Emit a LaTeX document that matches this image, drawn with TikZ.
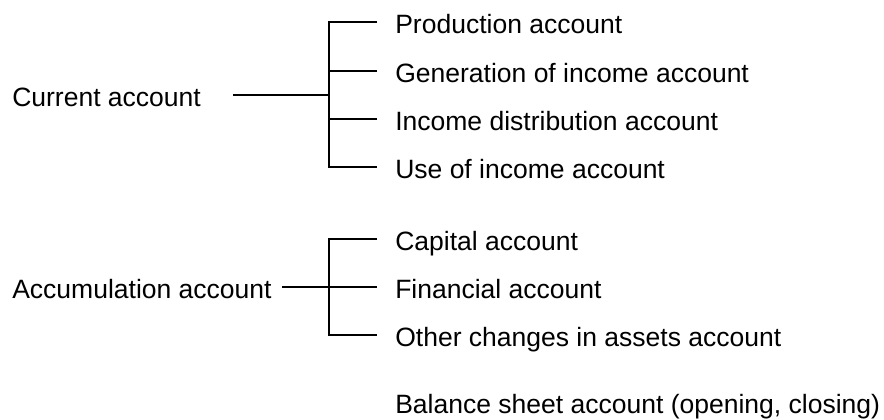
\documentclass[tikz,border=0pt]{standalone}
\usepackage{fontspec}
\setmainfont{Liberation Sans}
\usetikzlibrary{calc}

\begin{document}
\begin{tikzpicture}[x=0.025cm, y=-0.025cm,
  acct/.style={anchor=west, inner sep=0pt, text height=0.6cm, text depth=0.05cm,
               font=\fontsize{18.85pt}{22pt}\selectfont},
  sub/.style={acct, inner xsep=0.45cm},
  link/.style={draw=black, line width=0.8pt}
]
  \useasboundingbox (0,0) rectangle (884,420);

  % main accounts
  \node[acct] (cur) at (12,95) {Current account};
  \node[acct] (acc) at (12,287) {Accumulation account};

  \coordinate (jcur) at (329,95);
  \coordinate (jacc) at (329,287);

  % current account branch
  \node[sub] (prod) at (377,22)  {Production account};
  \node[sub] (gen)  at (377,71)  {Generation of income account};
  \node[sub] (dist) at (377,119) {Income distribution account};
  \node[sub] (use)  at (377,167) {Use of income account};

  % accumulation account branch
  \node[sub] (cap)  at (377,239) {Capital account};
  \node[sub] (fin)  at (377,287) {Financial account};
  \node[sub] (oth)  at (377,335) {Other changes in assets account};

  \node[sub] (bal)  at (377,402) {Balance sheet account (opening, closing)};

  \draw[link] ([xshift=0.79cm]cur.east) -- (jcur);
  \draw[link] (prod.west) -| (jcur) |- (use.west);
  \draw[link] (gen.west) -- (gen.west -| jcur);
  \draw[link] (dist.west) -- (dist.west -| jcur);

  \draw[link] ([xshift=0.25cm]acc.east) -- (fin.west);
  \draw[link] (cap.west) -| (jacc) |- (oth.west);

\end{tikzpicture}
\end{document}
